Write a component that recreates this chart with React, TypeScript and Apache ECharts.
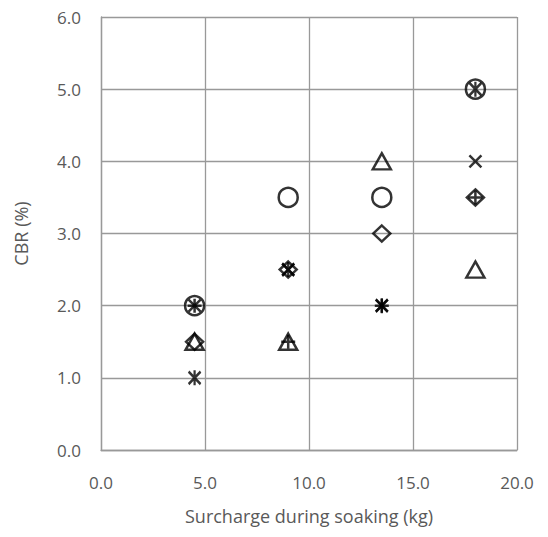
import React, { useEffect, useRef } from "react";
import * as echarts from "echarts";

const surcharge = [4.5, 9, 13.5, 18];
const circleCBR = [2.0, 3.5, 3.5, 5.0];
const triangleCBR = [1.5, 1.5, 4.0, 2.5];
const diamondCBR = [1.5, 2.5, 3.0, 3.5];
const crossCBR = [2.0, 2.5, 2.0, 4.0];
const plusCBR = [2.0, 1.5, 2.0, 3.5];
const starCBR = [1.0, 2.5, 2.0, 5.0];

const xTicks = ["0.0", "5.0", "10.0", "15.0", "20.0"];

const CROSS = "path://M0,0L10,10M10,0L0,10";
const PLUS = "path://M5,0L5,10M0,5L10,5";
const STAR = "path://M0,0L10,10M10,0L0,10M5,-1L5,11";

const font = "'Open Sans', 'Liberation Sans', sans-serif";

function mk(name: string, vals: number[], symbol: string, size: number | number[]) {
  return {
    name,
    type: "scatter",
    data: surcharge.map((x, i) => [x, vals[i]]),
    symbol,
    symbolSize: size,
    itemStyle: { color: "transparent", borderColor: "#000", borderWidth: 2.5 },
    emphasis: { disabled: true },
  };
}

export default function App() {
  const ref = useRef<HTMLDivElement>(null);
  useEffect(() => {
    const chart = echarts.init(ref.current!, null, { renderer: "svg" });
    chart.setOption({
      animation: false,
      grid: { left: 101, right: 31, top: 17, bottom: 87 },
      xAxis: {
        type: "value",
        min: 0,
        max: 20,
        interval: 5,
        name: "Surcharge during soaking (kg)",
        nameLocation: "middle",
        nameGap: 57,
        nameTextStyle: { fontFamily: font, fontSize: 18, color: "#595959" },
        axisLine: { show: true, lineStyle: { color: "#999", width: 1.3 } },
        axisTick: { show: false },
        axisLabel: {
          fontFamily: font,
          fontSize: 17,
          color: "#595959",
          margin: 24,
          formatter: (v: number) => xTicks[Math.round(v / 5)] ?? v.toFixed(1),
        },
        splitLine: { show: true, lineStyle: { color: "#999", width: 1.3 } },
      },
      yAxis: {
        type: "value",
        min: 0,
        max: 6,
        interval: 1,
        name: "CBR (%)",
        nameLocation: "middle",
        nameGap: 71,
        nameTextStyle: { fontFamily: font, fontSize: 18, color: "#595959" },
        axisLine: { show: true, lineStyle: { color: "#999", width: 1.3 } },
        axisTick: { show: false },
        axisLabel: {
          fontFamily: font,
          fontSize: 17,
          color: "#595959",
          margin: 20,
          formatter: (v: number) => v.toFixed(1),
        },
        splitLine: { show: true, lineStyle: { color: "#999", width: 1.3 } },
      },
      series: [
        mk("Circle", circleCBR, "circle", 19),
        mk("Triangle", triangleCBR, "triangle", [18, 16]),
        mk("Diamond", diamondCBR, "diamond", [17, 16]),
        mk("Cross", crossCBR, CROSS, 12),
        mk("Plus", plusCBR, PLUS, 14),
        mk("Star", starCBR, STAR, [12, 15]),
      ],
    });
    return () => chart.dispose();
  }, []);
  return <div ref={ref} style={{ width: 548, height: 537, margin: -8 }} />;
}
